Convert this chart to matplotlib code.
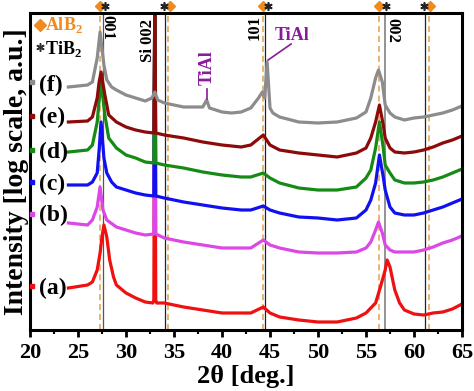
import matplotlib
matplotlib.use("Agg")
import matplotlib.pyplot as plt

plt.rcParams['font.family'] = ['Liberation Serif', 'DejaVu Serif']
plt.rcParams['font.weight'] = 'bold'
plt.rcParams['mathtext.fontset'] = 'custom'
plt.rcParams['mathtext.rm'] = 'Liberation Serif:bold'
plt.rcParams['mathtext.bf'] = 'Liberation Serif:bold'

# ---- data (intensity in arbitrary log units) ----
a_x = [24, 26, 26.5, 27, 27.3, 27.5, 27.7, 28, 28.3, 28.7, 29, 30, 31, 32, 32.8, 32.9, 33.0, 33.1, 33.2, 34, 35, 36, 38, 40, 42, 43, 44.3, 45, 46, 48, 50, 52, 54, 55, 56, 56.5, 57, 57.2, 57.5, 58, 58.5, 59, 60, 61, 62, 63, 64, 65]
a_y = [42, 45, 48, 60, 77, 93, 105, 93, 70, 53, 45, 37, 32, 28, 27, 30, 330, 30, 27, 27, 25, 23, 20, 17, 17, 17, 23, 17, 13, 10, 8, 8, 12, 17, 27, 43, 60, 70, 63, 40, 27, 20, 16, 15, 17, 18, 21, 26]

b_x = [24, 26, 26.5, 27, 27.3, 27.6, 28, 29, 30, 31, 32, 32.9, 33.0, 33.1, 34, 36, 38, 40, 42, 43, 44.3, 45, 46, 48, 50, 52, 54, 55, 55.5, 56, 56.3, 56.7, 57, 57.5, 58, 60, 61, 62, 63, 64, 65]
b_y = [107, 105, 110, 123, 143, 120, 110, 103, 100, 97, 95, 96, 330, 96, 92, 88, 85, 82, 82, 82, 90, 85, 82, 78, 77, 77, 78, 82, 88, 100, 108, 97, 85, 80, 78, 78, 80, 83, 87, 90, 94]

c_x = [24, 26, 26.5, 27, 27.2, 27.4, 27.7, 28, 28.5, 29, 30, 31, 32, 32.9, 33.0, 33.1, 34, 36, 38, 40, 42, 43, 44.3, 45, 46, 48, 50, 52, 54, 55, 55.5, 56, 56.4, 56.8, 57, 57.5, 58, 59, 60, 61, 62, 63, 64, 65]
c_y = [145, 145, 148, 157, 180, 208, 172, 157, 148, 143, 140, 137, 135, 134, 330, 134, 132, 128, 125, 122, 120, 120, 124, 120, 117, 113, 112, 110, 112, 120, 130, 147, 175, 153, 140, 123, 117, 115, 115, 117, 120, 123, 127, 131]

d_x = [24, 26, 26.5, 27, 27.2, 27.4, 27.8, 28.2, 29, 30, 31, 32, 32.9, 33.0, 33.1, 34, 36, 38, 40, 42, 43, 44.3, 45, 46, 48, 50, 52, 54, 55, 55.5, 56, 56.4, 56.8, 57, 57.5, 58, 59, 60, 61, 62, 63, 64, 65]
d_y = [178, 180, 185, 208, 230, 248, 215, 192, 182, 175, 172, 168, 167, 330, 167, 165, 162, 158, 155, 153, 153, 157, 152, 147, 142, 140, 140, 143, 152, 160, 182, 208, 182, 165, 157, 150, 147, 147, 148, 150, 153, 157, 161]

e_x = [24, 26, 26.5, 27, 27.2, 27.4, 27.8, 28.2, 29, 30, 31, 32, 32.9, 33.0, 33.1, 34, 36, 38, 40, 42, 43, 44.3, 45, 46, 48, 50, 52, 54, 55, 55.5, 56, 56.4, 56.8, 57, 57.5, 58, 59, 60, 61, 62, 63, 64, 65]
e_y = [208, 209, 213, 232, 248, 258, 235, 215, 208, 203, 200, 198, 197, 330, 197, 195, 192, 188, 185, 183, 185, 195, 185, 180, 177, 175, 173, 177, 182, 192, 208, 225, 205, 192, 182, 178, 177, 178, 180, 183, 187, 190, 194]

f_x = [24, 26, 26.5, 27, 27.3, 27.7, 28, 28.5, 29, 30, 31, 32, 32.7, 33.0, 33.3, 34, 36, 38, 38.4, 38.7, 40, 41, 42, 43, 43.8, 44.2, 44.45, 44.7, 45, 45.3, 46, 48, 50, 52, 54, 55, 55.5, 56, 56.3, 56.7, 57, 57.5, 58, 59, 60, 61, 62, 63, 64, 65]
f_y = [243, 245, 248, 272, 298, 265, 250, 243, 240, 235, 232, 229, 232, 238, 230, 227, 223, 223, 230, 222, 218, 217, 218, 222, 232, 238, 232, 268, 222, 217, 213, 208, 207, 208, 212, 218, 232, 252, 260, 248, 225, 217, 213, 210, 212, 213, 215, 217, 220, 224]

series_labels = ['(a)', '(b)', '(c)', '(d)', '(e)', '(f)']
series_colors = ['#f01010', '#dc48e6', '#1010f0', '#158a15', '#8c0a0a', '#8c8c8c']
label_y = [42, 115, 146, 178, 213, 245]
marker_y = [44, 116, 148, 180, 214, 248]

alb2_pos = [27.3, 34.4, 44.3, 56.35, 61.6]
tib2_pos = [27.6, 34.1, 44.5, 57.0, 61.1]
tib2_colors = ['#555555', '#222222', '#222222', '#8a8a8a', '#222222']
alb2_mark = [27.25, 34.55, 44.3, 56.35, 61.65]
tib2_mark = [27.85, 34.0, 44.75, 57.05, 61.0]

xticks = [20, 25, 30, 35, 40, 45, 50, 55, 60, 65]

# ---- figure ----
fig = plt.figure(figsize=(4.74, 3.91), dpi=100)
ax = fig.add_axes([30/474, 61/391, 432/474, 317/391])
ax.set_xlim(20, 65)
ax.set_ylim(0, 317)

for xv in alb2_pos:
    ax.axvline(xv, color='#e0a050', lw=1.1, ls=(0, (4, 2.5)), zorder=1)
for xv, c in zip(tib2_pos, tib2_colors):
    ax.axvline(xv, color=c, lw=1.3 if c == '#8a8a8a' else 0.9, zorder=1)

series = [(a_x, a_y), (b_x, b_y), (c_x, c_y), (d_x, d_y), (e_x, e_y), (f_x, f_y)]
for (xs, ys), col in zip(series, series_colors):
    ax.plot(xs, ys, color=col, lw=2.3, zorder=2, solid_joinstyle='round')

for lab, col, ly, my in zip(series_labels, series_colors, label_y, marker_y):
    ax.text(20.9, ly, lab, fontsize=17, fontweight='bold', va='center', ha='left', zorder=3)
    ax.plot([20.25], [my], marker='s', ms=3.5, color=col, clip_on=False, zorder=4)

# top markers
ax.plot(alb2_mark, [324]*len(alb2_mark), ls='none', marker='D', ms=5.5,
        color='#f08a1e', clip_on=False, zorder=5)
ax.plot(tib2_mark, [324]*len(tib2_mark), ls='none', marker=(6, 2, 0), ms=6, mew=1.2,
        color='#222222', clip_on=False, zorder=5)

# legend
ax.plot([21.05], [305], marker='D', ms=6, color='#f08a1e', zorder=5)
ax.text(21.6, 305, r'AlB$_\mathbf{2}$', color='#f08a1e', fontsize=13,
        va='center', ha='left', fontweight='bold')
ax.plot([21.05], [283], marker=(6, 2, 0), ms=6, mew=1.1, color='#333333', zorder=5)
ax.text(21.6, 281, r'TiB$_\mathbf{2}$', color='black', fontsize=13,
        va='center', ha='left', fontweight='bold')

# peak labels
ax.text(28.05, 303, '001', rotation=270, fontsize=12, va='center', ha='center', fontweight='bold')
ax.text(32.3, 290, 'Si 002', rotation=90, fontsize=12, va='center', ha='center', fontweight='bold')
ax.text(43.45, 303, '101', rotation=90, fontsize=12, va='center', ha='center', fontweight='bold')
ax.text(57.75, 300, '002', rotation=270, fontsize=12, va='center', ha='center', fontweight='bold')

tial_c = '#8a1a9a'
ax.text(38.45, 262, 'TiAl', rotation=90, fontsize=13, color=tial_c, va='center', ha='center', fontweight='bold')
ax.plot([38.45, 38.45], [231, 241], color=tial_c, lw=1.2)
ax.text(47.3, 295, 'TiAl', fontsize=13, color=tial_c, va='center', ha='center', fontweight='bold')
ax.plot([47.2, 44.8], [286, 270], color=tial_c, lw=1.2)

# axes style
for s in ax.spines.values():
    s.set_linewidth(2.2)
ax.set_xticks(xticks)
ax.set_xticks([22.5 + 5*i for i in range(9)], minor=True)
ax.tick_params(axis='x', which='major', direction='out', length=5, width=2, labelsize=16, pad=4)
ax.tick_params(axis='x', which='minor', direction='out', length=3, width=1.5)
ax.set_yticks([])
for lbl in ax.get_xticklabels():
    lbl.set_fontweight('bold')
ax.set_xlabel('2θ [deg.]', fontsize=19, fontweight='bold', labelpad=2)
ax.set_ylabel('Intensity [log scale, a.u.]', fontsize=20, fontweight='bold', labelpad=1)

fig.savefig('out.png', dpi=100)
